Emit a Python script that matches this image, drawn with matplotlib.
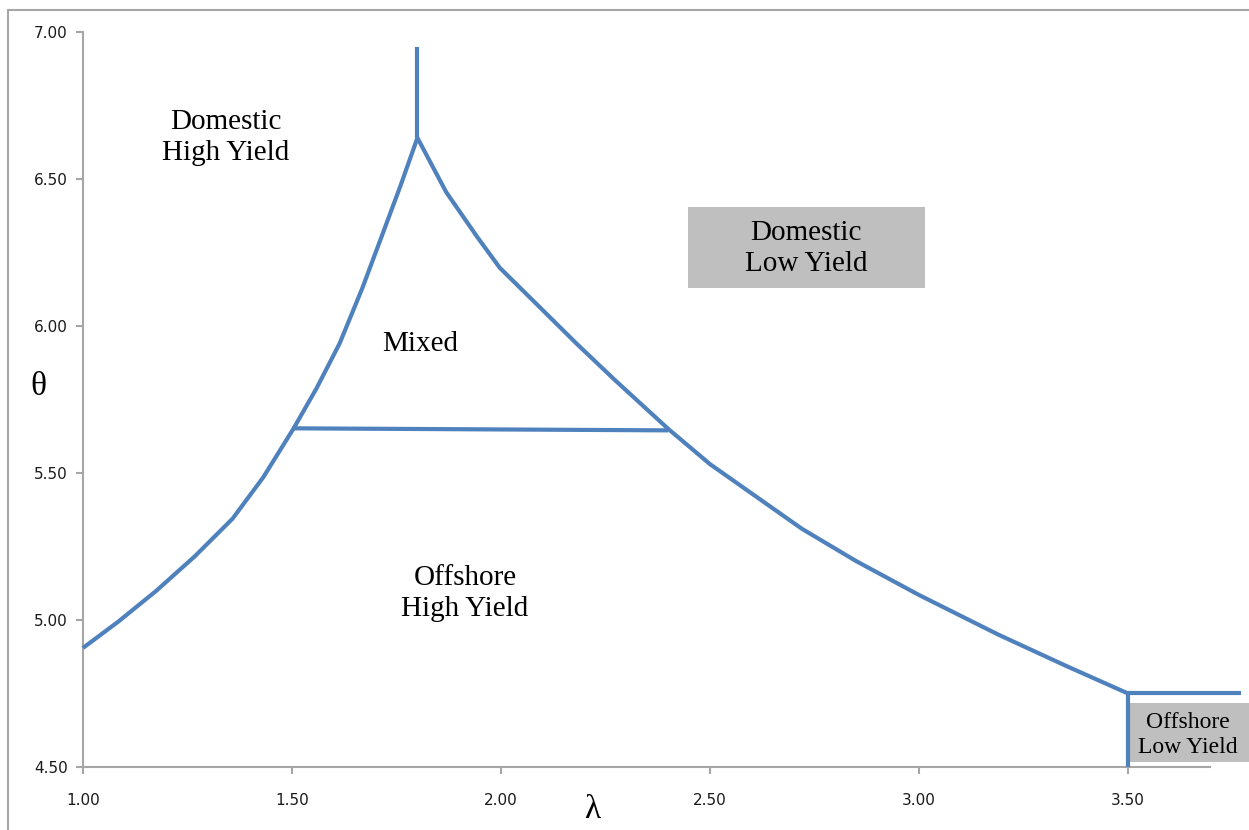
import numpy as np
import matplotlib
matplotlib.use('Agg')
import matplotlib.pyplot as plt
from matplotlib.patches import Rectangle

# boundary curves (lambda, theta)
left_x = [1.00, 1.084, 1.175, 1.267, 1.358, 1.431, 1.504, 1.559, 1.614,
          1.668, 1.714, 1.760, 1.80]
left_y = [4.905, 4.994, 5.099, 5.216, 5.345, 5.485, 5.652, 5.789, 5.941,
          6.128, 6.303, 6.479, 6.64]

right_x = [1.80, 1.869, 1.943, 1.997, 2.089, 2.180, 2.271, 2.40, 2.50,
           2.60, 2.72, 2.85, 3.00, 3.19, 3.35, 3.50]
right_y = [6.64, 6.455, 6.303, 6.198, 6.069, 5.941, 5.818, 5.65, 5.53,
           5.43, 5.31, 5.20, 5.085, 4.95, 4.845, 4.75]

top_x = [1.80, 1.80]
top_y = [6.64, 6.95]

mid_x = [1.50, 2.40]
mid_y = [5.652, 5.645]

corner_x = [3.50, 3.50, 3.77]
corner_y = [4.50, 4.75, 4.75]

labels = ['Domestic\nHigh Yield', 'Mixed', 'Domestic\nLow Yield',
          'Offshore\nHigh Yield', 'Offshore\nLow Yield']
label_x = [1.342, 1.806, 2.73, 1.914, 3.643]
label_y = [6.64, 5.94, 6.262, 5.09, 4.61]
label_size = [21, 21, 21, 21, 17]
# shaded boxes (x0, y0, width, height) in data units
boxes = [(2.447, 6.129, 0.567, 0.276), (3.50, 4.517, 0.30, 0.20)]

xticks = [1.0, 1.5, 2.0, 2.5, 3.0, 3.5]
yticks = [4.5, 5.0, 5.5, 6.0, 6.5, 7.0]

blue = '#4f81bd'
grey = '#a6a6a6'

fig = plt.figure(figsize=(12.49, 8.30), dpi=100)
fig.patches.append(Rectangle((8/1249, -0.5), 2.0, 0.5 + 1 - 10/830,
                             transform=fig.transFigure, fill=False,
                             edgecolor=grey, linewidth=1.5))
ax = fig.add_axes([83/1249, 1 - 767/830, (1210 - 83)/1249, (767 - 32)/830])

for (bx, by, bw, bh) in boxes:
    ax.add_patch(Rectangle((bx, by), bw, bh, facecolor='#bfbfbf',
                           edgecolor='none', clip_on=False, zorder=1))

lw = 3
for xs, ys in [(left_x, left_y), (right_x, right_y), (top_x, top_y),
               (mid_x, mid_y), (corner_x, corner_y)]:
    ax.plot(xs, ys, color=blue, linewidth=lw, clip_on=False, zorder=3,
            solid_capstyle='butt', solid_joinstyle='round')

for t, x, y, s in zip(labels, label_x, label_y, label_size):
    ax.text(x, y, t, ha='center', va='center', fontsize=s,
            family='Liberation Serif', linespacing=1.25, zorder=4)

ax.set_xlim(1.0, 3.696)
ax.set_ylim(4.5, 7.0)
ax.set_xticks(xticks)
ax.set_yticks(yticks)
ax.set_xticklabels(['%.2f' % v for v in xticks])
ax.set_yticklabels(['%.2f' % v for v in yticks])

for side in ['top', 'right']:
    ax.spines[side].set_visible(False)
for side in ['left', 'bottom']:
    ax.spines[side].set_color(grey)
    ax.spines[side].set_linewidth(1.5)
    ax.spines[side].set_zorder(2)

ax.tick_params(axis='both', direction='out', length=5, width=1.5,
               color=grey, labelsize=11, labelcolor='#1a1a1a')
ax.tick_params(axis='x', pad=14)
ax.tick_params(axis='y', pad=6)

fig.text(38/1249, 1 - 387/830, 'θ', fontsize=24, family='Liberation Serif',
         ha='center', va='center')
fig.text(592/1249, 1 - 810/830, 'λ', fontsize=24, family='Liberation Serif',
         ha='center', va='center')

fig.savefig('out.png', dpi=100)
